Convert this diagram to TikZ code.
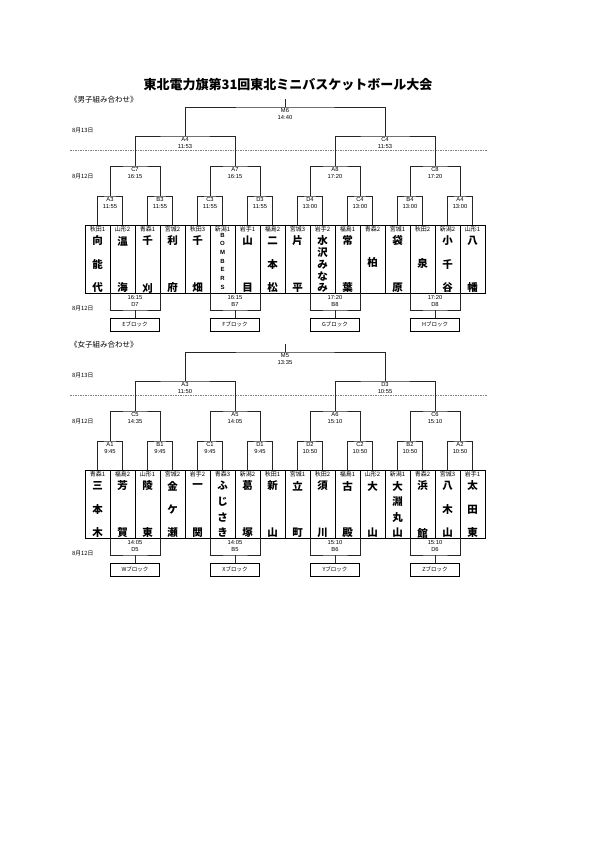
\documentclass[tikz,border=0pt]{standalone}
\usepackage{fontspec}
\setmainfont{Liberation Sans}
\newfontfamily\jp{Noto Sans CJK JP}
\tikzset{
 br/.style={line width=0.6pt, draw=black!85},
 team/.style={draw, line width=0.9pt, minimum width=25pt, minimum height=68pt, inner sep=0pt, outer sep=0pt},
 preflbl/.style={font=\jp\fontsize{6}{6}\selectfont, inner sep=0pt},
 nm/.style={font=\jp\bfseries\fontsize{10.5}{11}\selectfont, inner sep=0pt},
 nmsmall/.style={font=\bfseries\fontsize{6}{6}\selectfont, inner sep=0pt},
 lbl/.style={font=\fontsize{5.8}{7}\selectfont, align=center, anchor=north, inner sep=0.5pt},
 blk/.style={draw, line width=0.6pt, minimum width=49pt, minimum height=13pt, inner sep=0pt, font=\jp\fontsize{5.5}{6}\selectfont},
 datelbl/.style={font=\jp\fontsize{5.8}{6}\selectfont, anchor=west, inner sep=0pt},
 headlbl/.style={font=\jp\fontsize{7.5}{8}\selectfont, anchor=west, inner sep=0pt},
 dashln/.style={dash pattern=on 1.5pt off 1pt, draw=gray, line width=0.5pt},
}
% #1 prefix, #2 y shift, #3 top label, #4 L2 list, #5 L3 list, #6 L4 list, #7 teams, #8 bottom
\newcommand\drawsection[8]{%
\begin{scope}[shift={(0,#2)}]
 \coordinate (#1dl) at (70,150);
 \coordinate (#1dr) at (487,150);
 \draw[dashln] (#1dl) -- (#1dr);
 \foreach \pref/\nc/\chars [count=\i] in {#7} {
  \pgfmathsetmacro\cx{97.5+25*(\i-1)}
  \node[team] (#1T\i) at (\cx,259) {};
  \node[preflbl] (#1P\i) at (\cx,229.5) {\pref};
  \foreach \c [count=\k] in \chars {
   \ifnum\nc=1 \pgfmathsetmacro\cy{263}\else
    \ifnum\nc=7 \pgfmathsetmacro\cy{235+52*(\k-1)/6}\else
     \pgfmathsetmacro\cy{241+47*(\k-1)/(\nc-1)}\fi\fi
   \ifnum\nc=7 \node[nmsmall] (#1N\i-\k) at (\cx,\cy) {\c};
   \else \node[nm] (#1N\i-\k) at (\cx,\cy) {\c};\fi
  }
 }
 \foreach \lab/\tm [count=\i] in {#6} {
  \pgfmathtruncatemacro\a{2*\i-1}\pgfmathtruncatemacro\b{2*\i}
  \pgfmathsetmacro\cx{110+50*(\i-1)}
  \coordinate (#1D\i) at (\cx,196);
  \draw[br] (#1T\a.north) |- (#1D\i) -| (#1T\b.north);
  \node[lbl] (#1DL\i) at (\cx,196.6) {\lab\\\tm};
 }
 \foreach \lab/\tm [count=\i] in {#5} {
  \pgfmathtruncatemacro\a{2*\i-1}\pgfmathtruncatemacro\b{2*\i}
  \pgfmathsetmacro\cx{135+100*(\i-1)}
  \coordinate (#1C\i) at (\cx,166);
  \draw[br] (#1D\a) |- (#1C\i) -| (#1D\b);
  \node[lbl] (#1CL\i) at (\cx,166.6) {\lab\\\tm};
 }
 \foreach \lab/\tm [count=\i] in {#4} {
  \pgfmathtruncatemacro\a{2*\i-1}\pgfmathtruncatemacro\b{2*\i}
  \pgfmathsetmacro\cx{185+200*(\i-1)}
  \coordinate (#1B\i) at (\cx,136);
  \draw[br] (#1C\a) |- (#1B\i) -| (#1C\b);
  \node[lbl] (#1BL\i) at (\cx,136.6) {\lab\\\tm};
 }
 \coordinate (#1A) at (285,107);
 \coordinate (#1Top) at (285,99);
 \draw[br] (#1B1) |- (#1A) -| (#1B2);
 \draw[br] (#1Top) -- (#1A);
 \node[lbl] (#1AL) at (285,107.6) {#3};
 \foreach \tm/\lab/\blk [count=\j] in {#8} {
  \pgfmathtruncatemacro\a{4*\j-3}\pgfmathtruncatemacro\c{4*\j-1}
  \pgfmathsetmacro\cx{135+100*(\j-1)}
  \coordinate (#1E\j) at (\cx,310);
  \draw[br] (#1T\a.south east) |- (#1E\j) -| (#1T\c.south east);
  \node[lbl] (#1EL\j) at (\cx,294.8) {\tm\\\lab};
  \node[blk] (#1K\j) at (\cx,324.5) {\blk};
  \draw[br] (#1E\j) -- (#1K\j.north);
 }
 \node[datelbl] (#1d1) at (72,130) {8月13日};
 \node[datelbl] (#1d2) at (72,176) {8月12日};
 \node[datelbl] (#1d3) at (72,308) {8月12日};
\end{scope}}
\begin{document}
\begin{tikzpicture}[x=1pt,y=-1pt]
\fill[white] (0,0) rectangle (595,842);
\useasboundingbox (0,0) rectangle (595,842);
\node[font=\jp\bfseries\fontsize{13}{14}\selectfont, inner sep=0pt] (title) at (288,85) {東北電力旗第31回東北ミニバスケットボール大会};
\node[headlbl] (mhead) at (70,100) {《男子組み合わせ》};
\node[headlbl] (fhead) at (70,345) {《女子組み合わせ》};
\drawsection{m}{0}{M6\\14:40}
 {A4/11:53,C4/11:53}
 {C7/16:15,A7/16:15,A8/17:20,C8/17:20}
 {A3/11:55,B3/11:55,C3/11:55,D3/11:55,D4/13:00,C4/13:00,B4/13:00,A4/13:00}
 {秋田1/3/{向,能,代},山形2/2/{温,海},青森1/2/{千,刈},宮城2/2/{利,府},秋田3/2/{千,畑},新潟1/7/{B,O,M,B,E,R,S},岩手1/2/{山,目},福島2/3/{二,本,松},宮城3/2/{片,平},岩手2/5/{水,沢,み,な,み},福島1/2/{常,葉},青森2/1/{柏},宮城1/2/{袋,原},秋田2/1/{泉},新潟2/3/{小,千,谷},山形1/2/{八,幡}}
 {16:15/D7/Eブロック,16:15/B7/Fブロック,17:20/B8/Gブロック,17:20/D8/Hブロック}
\drawsection{f}{245}{M5\\13:35}
 {A3/11:50,D3/10:55}
 {C5/14:35,A5/14:05,A6/15:10,C6/15:10}
 {A1/9:45,B1/9:45,C1/9:45,D1/9:45,D2/10:50,C2/10:50,B2/10:50,A2/10:50}
 {青森1/3/{三,本,木},福島2/2/{芳,賀},山形1/2/{陵,東},宮城2/3/{金,ケ,瀬},岩手2/2/{一,関},青森3/4/{ふ,じ,さ,き},新潟2/2/{葛,塚},秋田1/2/{新,山},宮城1/2/{立,町},秋田2/2/{須,川},福島1/2/{古,殿},山形2/2/{大,山},新潟1/4/{大,淵,丸,山},青森2/2/{浜,館},宮城3/3/{八,木,山},岩手1/3/{太,田,東}}
 {14:05/D5/Wブロック,14:05/B5/Xブロック,15:10/B6/Yブロック,15:10/D6/Zブロック}
\end{tikzpicture}
\end{document}
